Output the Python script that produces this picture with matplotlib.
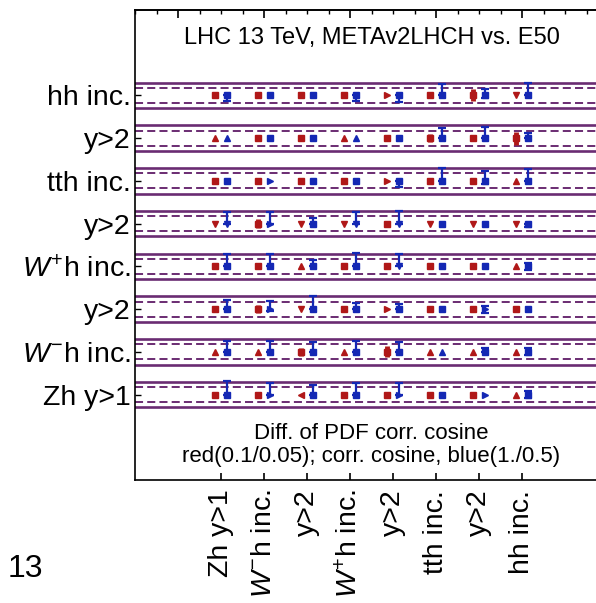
import numpy as np
import matplotlib
matplotlib.use('Agg')
import matplotlib.pyplot as plt

plt.rcParams['font.family'] = ['Liberation Sans', 'DejaVu Sans']
plt.rcParams['mathtext.fontset'] = 'custom'
plt.rcParams['mathtext.rm'] = 'Liberation Sans'
plt.rcParams['mathtext.it'] = 'Liberation Sans:italic'
plt.rcParams['lines.scale_dashes'] = False

# rows listed top to bottom, columns left to right
row_labels = ['hh inc.', 'y>2', 'tth inc.', 'y>2', r'$W^{+}$h inc.', 'y>2',
              r'$W^{-}$h inc.', 'Zh y>1']
col_labels = ['Zh y>1', r'$W^{-}$h inc.', 'y>2', r'$W^{+}$h inc.', 'y>2',
              'tth inc.', 'y>2', 'hh inc.']

# symbol of the red (diff. of corr. cosine) point in each cell
red_sym = [
    list('ssss>ssv'),
    list('^ss^ssss'),
    list('ssss>ss^'),
    list('vsvvsvvv'),
    list('ss^ssss^'),
    list('ssvs>sss'),
    list('^^s^s^^^'),
    list('ss<ssss^'),
]
# red spread (+/-)
red_err = [
    [0, 0, 0, 0, 0, 0, .14, 0],
    [0, 0, 0, 0, 0, .10, 0, .15],
    [0, 0, 0, 0, 0, 0, 0, 0],
    [0, .10, 0, 0, 0, 0, 0, 0],
    [0, 0, 0, 0, 0, 0, 0, 0],
    [0, .10, 0, 0, 0, 0, 0, 0],
    [0, 0, .10, 0, .13, 0, 0, 0],
    [0, 0, 0, 0, 0, 0, 0, 0],
]
# symbol of the blue (corr. cosine) point in each cell
blue_sym = [
    list('ssssssss'),
    list('^ss^ssss'),
    list('s>ssssss'),
    list('v>svvsss'),
    list('ssssvsss'),
    list('s>ssss>s'),
    list('sssss^ss'),
    list('s>ss>s>s'),
]
blue_up = [
    [0, 0, 0, 0, 0, .27, .15, .29],
    [0, 0, 0, 0, 0, .24, .27, .12],
    [0, 0, 0, 0, 0, .31, .23, .28],
    [.27, .27, .13, .27, .30, 0, 0, 0],
    [.30, .30, .16, .32, .30, 0, 0, .08],
    [.21, .20, .30, .14, .13, 0, .08, 0],
    [.26, .26, .24, .26, .24, 0, .10, .08],
    [.31, .27, .23, .27, .27, 0, 0, .08],
]
blue_dn = [
    [.13, 0, 0, .13, .15, 0, .05, 0],
    [0, 0, 0, 0, 0, 0, 0, 0],
    [0, 0, 0, 0, .15, 0, .07, 0],
    [0, 0, 0, 0, 0, 0, 0, .08],
    [0, 0, 0, 0, 0, 0, 0, .08],
    [0, .05, 0, 0, 0, 0, .08, 0],
    [0, 0, 0, 0, 0, 0, 0, .08],
    [0, 0, 0, 0, 0, 0, 0, .08],
]

purple = '#6a2c72'
red = '#b01818'
blue = '#1428b4'

fig = plt.figure(figsize=(5.96, 6.03), dpi=100)
ax = fig.add_axes([135 / 596, 123 / 603, 473 / 596, 470 / 603])
ax.set_xlim(-1, 10)
ax.set_ylim(-1, 10)

nrow = len(row_labels)
yv = np.arange(nrow, 0, -1)
xv = np.arange(1, len(col_labels) + 1)

for y in yv:
    for s in (-0.3, 0.3):
        ax.axhline(y + s, color=purple, lw=1.9, zorder=2)
    for s in (-0.175, 0.175):
        ax.axhline(y + s, color=purple, lw=1.4, ls=(0, (5.8, 3.0)), zorder=2)

for i, y in enumerate(yv):
    for j, x in enumerate(xv):
        xr, xb = x - 0.14, x + 0.14
        if red_err[i][j] > 0:
            ax.errorbar(xr, y, yerr=red_err[i][j], fmt='none', ecolor=red,
                        elinewidth=3.5, capsize=0, zorder=3)
        ax.plot(xr, y, marker=red_sym[i][j], color=red, ms=5, ls='none', zorder=4)
        if blue_up[i][j] > 0 or blue_dn[i][j] > 0:
            ax.errorbar(xb, y, yerr=[[blue_dn[i][j]], [blue_up[i][j]]], fmt='none',
                        ecolor=blue, elinewidth=1.6, capsize=2.6, capthick=1.6, zorder=3)
        ax.plot(xb, y, marker=blue_sym[i][j], color=blue, ms=5, ls='none', zorder=4)

ax.set_xticks(xv)
ax.set_xticklabels(col_labels, rotation=90, fontsize=20.5)
ax.tick_params(axis='x', direction='in', length=5, width=1.2, pad=7, top=False)
ax.set_yticks(yv)
ax.set_yticklabels(row_labels, fontsize=20.5)
ax.tick_params(axis='y', direction='in', length=4, width=1.0, pad=3, right=False)
for sp in ax.spines.values():
    sp.set_linewidth(1.2)

top = ax.secondary_xaxis('top')
top.set_xticks(np.arange(0, 11, 2))
top.set_xticks(np.arange(-1, 10.01, 0.5), minor=True)
top.tick_params(which='major', direction='in', length=6, width=1.2, labeltop=False)
top.tick_params(which='minor', direction='in', length=3, width=1.0)
top.spines['top'].set_linewidth(1.2)

ax.text(0.50, 0.94, 'LHC 13 TeV, METAv2LHCH vs. E50', transform=ax.transAxes,
        ha='center', va='center', fontsize=17)
ax.text(0.50, 0.098, 'Diff. of PDF corr. cosine', transform=ax.transAxes,
        ha='center', va='center', fontsize=16)
ax.text(0.50, 0.050, 'red(0.1/0.05); corr. cosine, blue(1./0.5)', transform=ax.transAxes,
        ha='center', va='center', fontsize=16)
fig.text(0.012, 0.043, '13', fontsize=23, va='baseline')

fig.savefig('out.png', dpi=100)
